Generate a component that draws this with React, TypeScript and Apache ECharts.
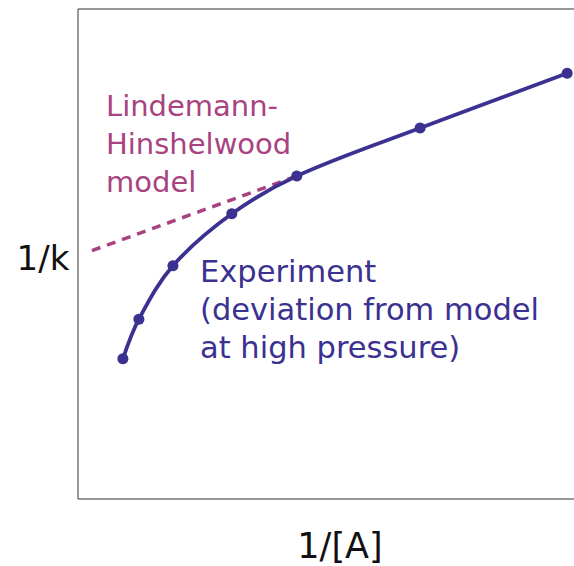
import React, { useEffect, useRef } from "react";
import * as echarts from "echarts";

// Experiment (measured) points: x = 1/[A], y = 1/k (arbitrary units)
const expX = [0.87, 1.18, 1.84, 2.98, 4.24, 6.63, 9.48];
const expY = [2.86, 3.67, 4.76, 5.82, 6.59, 7.57, 8.69];
// Lindemann-Hinshelwood model (straight line, dashed part)
const modelX = [0.27, 4.24];
const modelY = [5.07, 6.59];

const modelLabel = ["Lindemann-", "Hinshelwood", "model"];
const expLabel = ["Experiment", "(deviation from model", "at high pressure)"];
const xName = "1/[A]";
const yName = "1/k";

const BLUE = "#3b3190";
const MAGENTA = "#a8437f";
const FONT = "DejaVu Sans";

export default function App() {
  const ref = useRef<HTMLDivElement>(null);
  useEffect(() => {
    if (!ref.current) return;
    const chart = echarts.init(ref.current, null, { renderer: "svg" });
    const text = (s: string, x: number, y: number, color: string, size: number, align = "left") => ({
      type: "text",
      x,
      y,
      style: { text: s, fill: color, font: `${size}px ${FONT}`, textAlign: align, textVerticalAlign: "middle" },
    });
    chart.setOption({
      animation: false,
      backgroundColor: "#ffffff",
      grid: { left: 78, top: 9, right: 16, bottom: 67, show: true, borderColor: "#333", borderWidth: 1 },
      xAxis: {
        type: "value", min: 0, max: 10,
        axisLine: { show: false }, axisTick: { show: false }, axisLabel: { show: false }, splitLine: { show: false },
      },
      yAxis: {
        type: "value", min: 0, max: 10,
        axisLine: { show: false }, axisTick: { show: false }, axisLabel: { show: false }, splitLine: { show: false },
      },
      series: [
        {
          type: "line",
          data: modelX.map((x, i) => [x, modelY[i]]),
          symbol: "none",
          lineStyle: { color: MAGENTA, width: 3.5, type: [9, 7] },
          z: 1,
        },
        {
          type: "line",
          data: expX.map((x, i) => [x, expY[i]]),
          smooth: 0.35,
          symbol: "circle",
          symbolSize: 11,
          itemStyle: { color: BLUE },
          lineStyle: { color: BLUE, width: 3.8 },
          z: 2,
        },
      ],
      graphic: [
        text(yName, 43, 258, "#111", 34, "center"),
        text(xName, 340, 546, "#111", 35, "center"),
        ...modelLabel.map((s, i) => text(s, 106, 106 + i * 38, MAGENTA, 29)),
        ...expLabel.map((s, i) => text(s, 200, 271 + i * 38, BLUE, 30.5)),
      ],
    });
    return () => chart.dispose();
  }, []);
  return <div ref={ref} style={{ position: "fixed", left: 0, top: 0, width: 610, height: 566 }} />;
}
